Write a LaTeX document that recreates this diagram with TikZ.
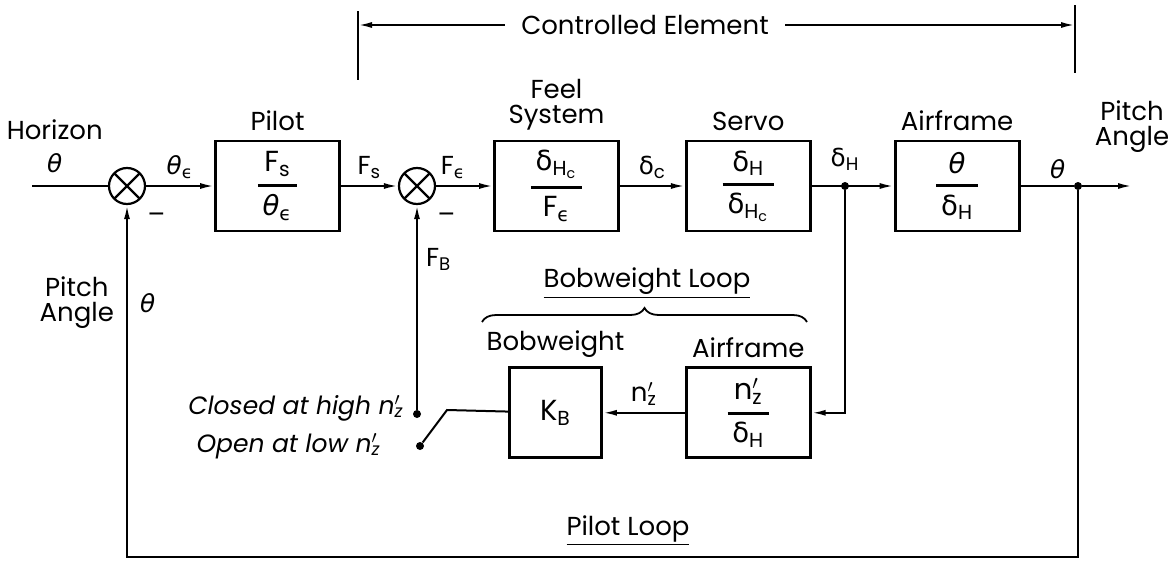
\documentclass[tikz,border=0pt]{standalone}
\usepackage{fontspec}
\setmainfont{Poppins}
\newfontfamily\grk{DejaVu Sans}[Scale=0.95]
\usetikzlibrary{arrows.meta,positioning,decorations.pathreplacing,calc}

\newcommand{\gth}{{\grk\itshape θ}}
\newcommand{\gdl}{{\grk δ}}
\newcommand{\gep}{{\grk ϵ}}
\newcommand{\blkfrac}[2]{$\displaystyle{\mbox{\,#1\,}\above1.3pt\mbox{\,#2\,}}$}
\newcommand{\nzp}{n\rlap{$'$}\textsubscript{z}}
\newcommand{\dltH}{\gdl\textsubscript{H}}
\newcommand{\dltHc}{\gdl\textsubscript{H\textsubscript{c}}}

\begin{document}
\begin{tikzpicture}[
      x=0.5pt, y=-0.5pt,
      every node/.style={font=\fontsize{13}{12.5}\selectfont},
      blk/.style={draw, line width=1.4pt, minimum width=62pt, minimum height=45pt, inner sep=1pt,
        font=\fontsize{14.5}{15}\selectfont},
      sumj/.style={circle, draw, line width=1.1pt, minimum size=18pt, inner sep=0pt,
        path picture={\draw[line width=1.1pt]
          (path picture bounding box.north west) -- (path picture bounding box.south east)
          (path picture bounding box.north east) -- (path picture bounding box.south west);}},
      sig/.style={line width=1pt},
      dot/.style={circle, fill, inner sep=0pt, minimum size=4pt},
      note/.style={font=\fontsize{12.5}{12.5}\selectfont\itshape},
      >={Latex[length=7pt,width=3pt]}
    ]
    \useasboundingbox (0,0) rectangle (1169,562);

    % MAIN ROW
    \coordinate (hin) at (32,186);
    \node[sumj] (sum1) at (127,186) {};
    \node[blk, right=34pt of sum1] (pilot) {\blkfrac{F\textsubscript{s}}{\gth\textsubscript{\gep}}};
    \node[sumj, right=28.5pt of pilot] (sum2) {};
    \node[blk, right=28.5pt of sum2] (feel) {\blkfrac{\dltHc}{F\textsubscript{\gep}}};
    \node[blk, right=32.5pt of feel] (servo) {\blkfrac{\dltH}{\dltHc}};
    \node[blk, right=41pt of servo] (airf) {\blkfrac{\gth}{\dltH}};
    \node[dot] (dHj) at (845,186) {};
    \node[dot] (thdot) at (1078,186) {};
    \coordinate (pout) at (1132,186);

    \node[above=1pt of pilot] (pilotlbl) {Pilot};
    \node[above=1pt of feel, align=center] (feellbl) {Feel\\System};
    \node[above=1pt of servo] (servolbl) {Servo};
    \node[above=1pt of airf] (airflbl) {Airframe};
    \node[above=2pt of dHj] (dHlbl) {\dltH};
    \node[above=13pt of pout, align=center] (pitchout) {Pitch\\Angle};

    % LOWER ROW
    \node[blk, below=67pt of servo] (air2) {\blkfrac{\nzp}{\dltH}};
    \node[blk, minimum width=46pt, left=41pt of air2] (kbob) {K\textsubscript{B}};
    \node[above=1pt of air2] (air2lbl) {Airframe};
    \node[above=1pt of kbob] (kboblbl) {Bobweight};
    \coordinate (brl) at (482,322);
    \coordinate (brr) at (807,322);
    \node (bwloop) at (647,283) {\underline{Bobweight Loop}};

    % SWITCH
    \coordinate (pivot) at (447,410);
    \path (sum2) ++(0,228) node[dot] (closedot) {};
    \path (sum2) ++(3,260) node[dot] (opendot) {};
    \node[note, left=1pt of closedot, yshift=3pt] (closedlbl) {Closed at high \nzp};
    \node[note, left=14pt of opendot] (openlbl) {Open at low \nzp};

    % CONTROLLED ELEMENT
    \node[inner xsep=8pt] (ctrl) at (645,25) {Controlled Element};
    \coordinate (ceL) at (358,25);
    \coordinate (ceR) at (1075,25);

    % PILOT LOOP
    \coordinate (brow) at (628,557);
    \node[above=2pt of brow] (ploop) {\underline{Pilot Loop}};
    \coordinate (pitchmark) at (127,303);
    \node[left=3pt of pitchmark, align=center] (pitchin) {Pitch\\Angle};
    \node[right=3pt of pitchmark] (thetain) {\gth};

    % FLECHAS
    \draw[sig] (hin) -- node[above=3pt, pos=0.3, align=center] {Horizon\\[4pt]\gth} (sum1);
    \draw[sig, ->] (sum1) -- node[above] {\gth\textsubscript{\gep}} (pilot);
    \draw[sig, ->] (pilot) -- node[above] {F\textsubscript{s}} (sum2);
    \draw[sig, ->] (sum2) -- node[above, pos=0.3] {F\textsubscript{\gep}} (feel);
    \draw[sig, ->] (feel) -- node[above] {\gdl\textsubscript{c}} (servo);
    \draw[sig, ->] (servo) -- (airf);
    \draw[sig] (airf) -- node[above, pos=0.7] {\gth} (thdot);
    \draw[sig, ->] (thdot) -- (pout);
    \draw[sig, ->] (dHj) |- (air2);
    \draw[sig, ->] (air2) -- node[above] {\nzp} (kbob);
    \draw[sig] (kbob) -- (pivot) -- (opendot);
    \draw[sig, ->] (closedot) -- (sum2);
    \draw[sig, ->] (thdot) |- (brow) -| (sum1);
    \draw[line width=0.9pt, decorate, decoration={brace, amplitude=7pt}] (brl) -- (brr);
    \draw[sig, ->] (ctrl) -- (ceL);
    \draw[sig, ->] (ctrl) -- (ceR);
    \draw[sig] ($(ceL)+(0,-14)$) -- ($(ceL)+(0,55)$);
    \draw[sig] ($(ceR)+(0,-20)$) -- ($(ceR)+(0,48)$);

    \node[anchor=north west, yshift=-3pt] (minus1) at (sum1.south east) {--};
    \node[anchor=north west, yshift=-3pt] (minus2) at (sum2.south east) {--};
    \node[below right=18pt and 1pt of sum2.south] (fblbl) {F\textsubscript{B}};
  \end{tikzpicture}
\end{document}
